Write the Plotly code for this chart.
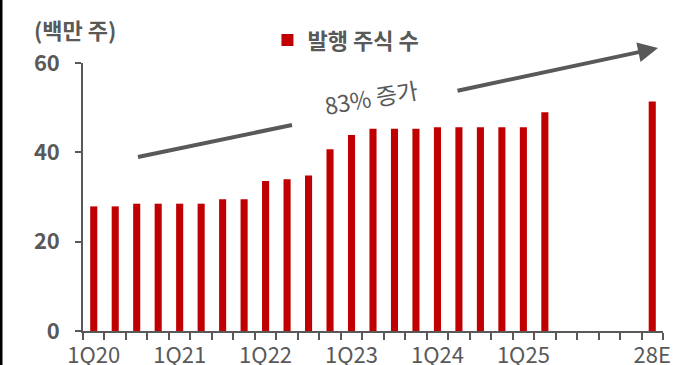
import plotly.graph_objects as go

quarters = ["1Q20", "2Q20", "3Q20", "4Q20", "1Q21", "2Q21", "3Q21", "4Q21",
            "1Q22", "2Q22", "3Q22", "4Q22", "1Q23", "2Q23", "3Q23", "4Q23",
            "1Q24", "2Q24", "3Q24", "4Q24", "1Q25", "2Q25"]
gap_slots = ["g1", "g2", "g3", "g4"]
forecast = ["28E"]
categories = quarters + gap_slots + forecast

shares_quarterly = [27.9, 27.9, 28.5, 28.5, 28.5, 28.5, 29.5, 29.5,
                    33.6, 34.0, 34.8, 40.7, 43.9, 45.3, 45.3, 45.3,
                    45.6, 45.6, 45.6, 45.6, 45.6, 49.0]
shares_forecast = [51.4]
values = shares_quarterly + [None] * len(gap_slots) + shares_forecast

shown_labels = ["1Q20", "1Q21", "1Q22", "1Q23", "1Q24", "1Q25", "28E"]
ticktext = [c if c in shown_labels else "" for c in categories]

y_ticks = [0, 20, 40, 60]

GRAY = "#595959"
RED = "#C00000"
FONT = "Noto Sans CJK KR"

fig = go.Figure()
fig.add_trace(go.Bar(
    x=categories, y=values, name="발행 주식 수",
    marker=dict(color=RED, line=dict(width=0)),
    width=0.33, showlegend=True,
))

fig.update_layout(
    width=696, height=365,
    margin=dict(l=83, r=33, t=63, b=34),
    paper_bgcolor="white", plot_bgcolor="white",
    font=dict(family=FONT, color=GRAY, size=18),
    legend=dict(orientation="h", x=0.318, y=1.085, xanchor="left", yanchor="middle",
                font=dict(size=22, color=GRAY, family=FONT, weight="bold"),
                bgcolor="rgba(0,0,0,0)"),
    xaxis=dict(
        type="category", categoryorder="array", categoryarray=categories,
        range=[-0.5, len(categories) - 0.5], automargin=False,
        tickmode="array", tickvals=categories, ticktext=ticktext, tickangle=0,
        tickson="boundaries", ticks="outside", ticklen=7, tickwidth=1.5, tickcolor=GRAY,
        showline=True, linecolor=GRAY, linewidth=1.5, showgrid=False,
        tickfont=dict(size=22, color=GRAY, family=FONT),
        ticklabelstandoff=4,
    ),
    yaxis=dict(
        range=[0, 60], tickvals=y_ticks, ticks="outside", ticklen=6, tickwidth=1.5,
        tickcolor=GRAY, showline=True, linecolor=GRAY, linewidth=1.5, showgrid=False,
        zeroline=False, automargin=False,
        tickfont=dict(size=22, color=GRAY, family=FONT, weight="bold"),
        ticklabelstandoff=11,
    ),
)

# unit label
fig.add_annotation(text="(백만 주)", xref="paper", yref="paper",
                   x=(32 - 83) / 580, y=(331 - 29) / 268, xanchor="left", yanchor="middle",
                   showarrow=False, font=dict(size=22, color=GRAY, family=FONT, weight="bold"))

# growth annotation text
fig.add_annotation(text="83% 증가", xref="paper", yref="paper",
                   x=(371 - 83) / 580, y=(331 - 97) / 268, xanchor="center", yanchor="middle",
                   showarrow=False, textangle=-10,
                   font=dict(size=23, color=GRAY, family=FONT))

# arrow first segment
fig.add_shape(type="line", xref="paper", yref="paper",
              x0=(138 - 83) / 580, y0=(331 - 157) / 268,
              x1=(292 - 83) / 580, y1=(331 - 125) / 268,
              line=dict(color=GRAY, width=4))

# arrow second segment with head
fig.add_annotation(text="", xref="paper", yref="paper",
                   x=(658 - 83) / 580, y=(331 - 48) / 268,
                   ax=456 - 658, ay=91 - 48, showarrow=True,
                   arrowhead=2, arrowsize=1.0, arrowwidth=4, arrowcolor=GRAY)

# left border seen in the reference
fig.add_shape(type="line", xref="paper", yref="paper",
              x0=(1 - 83) / 580, x1=(1 - 83) / 580, y0=-0.3, y1=1.4,
              line=dict(color="black", width=3))

fig.write_html("out.html")
